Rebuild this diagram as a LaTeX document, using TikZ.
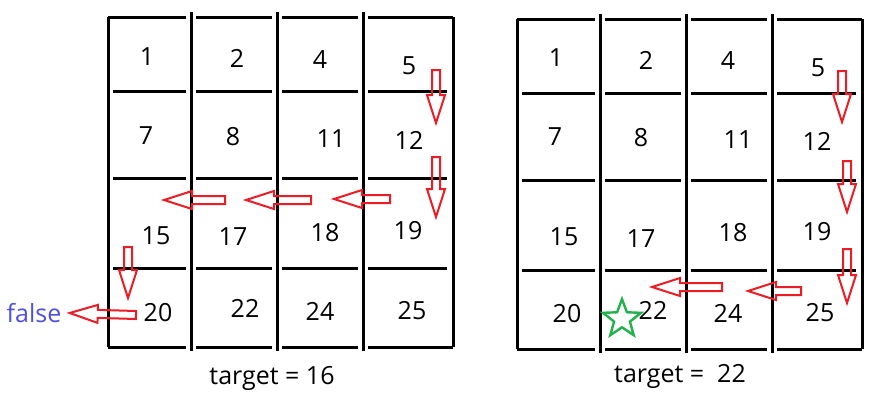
\documentclass[tikz,border=0pt]{standalone}
\usepackage{fontspec}
\setmainfont{Open Sans}
\usetikzlibrary{calc,shapes.geometric}
\definecolor{paintred}{HTML}{ED1C24}
\definecolor{paintgreen}{HTML}{22B14C}
\definecolor{falseblue}{HTML}{5050DC}

\tikzset{
  gridline/.style={line width=1.5pt},
  num/.style={font=\fontsize{12.5}{15}\selectfont, inner sep=0pt},
  redarrow/.style={draw=paintred, line width=1pt, line join=miter,
    to path={let \p1=(\tikztostart), \p2=(\tikztotarget),
      \n1={atan2(\y2-\y1,\x2-\x1)}, \n2={veclen(\x2-\x1,\y2-\y1)} in
      ($(\p1)+(\n1+90:2pt)$) -- ($(\p1)+(\n1:\n2-14pt)+(\n1+90:2pt)$)
      -- ($(\p1)+(\n1:\n2-14pt)+(\n1+90:4.5pt)$) -- (\p2)
      -- ($(\p1)+(\n1:\n2-14pt)+(\n1-90:4.5pt)$)
      -- ($(\p1)+(\n1:\n2-14pt)+(\n1-90:2pt)$)
      -- ($(\p1)+(\n1-90:2pt)$) -- cycle}}
}

\begin{document}
\begin{tikzpicture}[x=0.5pt,y=-0.5pt]
\useasboundingbox (0,0) rectangle (882,409);

% the two grids
\foreach \gx/\gy in {0/0,409/2} {
\begin{scope}[shift={(\gx,\gy)}]
  \draw[gridline] (108,17) -- (108,347);
  \draw[gridline] (453,17) -- (453,347);
  \foreach \x in {191,277,363}
    \draw[gridline] (\x,12) -- (\x,351);
  \foreach \y in {17,347}
    \foreach \a/\b in {108/186,196/272,282/358,368/453}
      \draw[gridline] (\a,\y) -- (\b,\y);
  \foreach \y in {91,178,268}
    \foreach \a/\b in {113/186,196/272,282/358,368/447}
      \draw[gridline] (\a,\y) -- (\b,\y);
\end{scope}
}

% numbers, left grid
\foreach \v/\x/\y in {1/147/57,2/237/58,4/320/60,5/409/66,
                      7/146/136,8/233/137,11/331/139,12/409/140,
                      15/156/236,17/233/237,18/325/233,19/408/231,
                      20/158/313,22/245/308,24/320/311,25/412/311}
  \node[num] (l_\v) at (\x,\y) {\v};

% numbers, right grid
\foreach \v/\x/\y in {1/556/58,2/646/60,4/728/61,5/818/68,
                      7/555/137,8/641/138,11/738/140,12/817/141,
                      15/564/237,17/641/239,18/733/233,19/817/232,
                      20/567/314,22/653/310,24/728/313,25/820/313}
  \node[num] (r_\v) at (\x,\y) {\v};

\node[num, text=falseblue, inner xsep=4pt] (fail) at (34,313) {false};
\node[num] (tl) at (272,378) {target = 16};
\node[num] (tr) at (680,376) {target =\ \ 22};
\node[star, star points=5, star point ratio=2.4, draw=paintgreen,
      line width=1.2pt, minimum size=20pt, inner sep=0pt] (found) at (622,319) {};

% search path, left grid
\coordinate (ls_1) at (436,70);  \coordinate (lt_1) at (436,123);
\coordinate (ls_2) at (436,157); \coordinate (lt_2) at (436,217);
\coordinate (ls_3) at (390,199); \coordinate (lt_3) at (334,199);
\coordinate (ls_4) at (311,200); \coordinate (lt_4) at (246,200);
\coordinate (ls_5) at (225,200); \coordinate (lt_5) at (164,200);
\coordinate (ls_6) at (128,247); \coordinate (lt_6) at (128,298);
\coordinate (ls_7) at (136,315);

% search path, right grid
\coordinate (rs_1) at (842,71);  \coordinate (rt_1) at (842,122);
\coordinate (rs_2) at (847,161); \coordinate (rt_2) at (847,212);
\coordinate (rs_3) at (847,249); \coordinate (rt_3) at (847,303);
\coordinate (rs_4) at (801,291); \coordinate (rt_4) at (748,291);
\coordinate (rs_5) at (722,287); \coordinate (rt_5) at (652,287);

\foreach \s/\t in {ls_1/lt_1,ls_2/lt_2,ls_3/lt_3,ls_4/lt_4,ls_5/lt_5,ls_6/lt_6,
                   rs_1/rt_1,rs_2/rt_2,rs_3/rt_3,rs_4/rt_4,rs_5/rt_5}
  \draw[redarrow] (\s) to (\t);
\draw[redarrow] (ls_7) to (fail.east);
\end{tikzpicture}
\end{document}
